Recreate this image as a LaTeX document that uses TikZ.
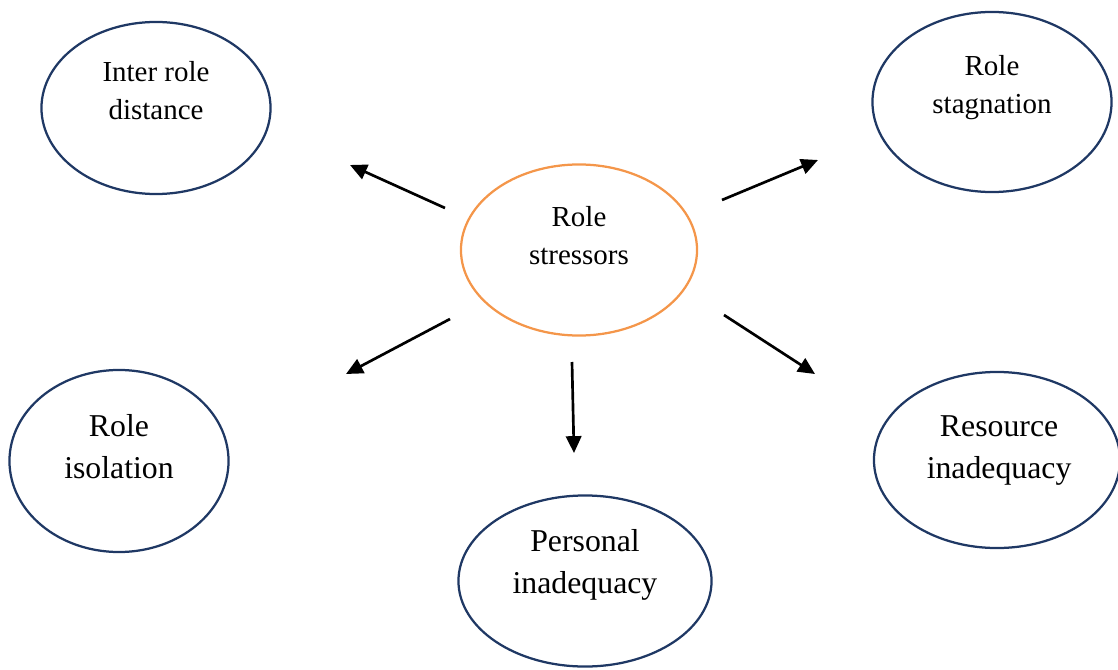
\documentclass[tikz,border=0pt]{standalone}
\usepackage{fontspec}
\setmainfont{Liberation Serif}
\usetikzlibrary{arrows.meta, shapes.geometric}
\definecolor{ringblue}{RGB}{31,56,100}
\definecolor{ringorange}{RGB}{244,150,74}
\tikzset{
  bubble/.style = {ellipse, draw = ringblue, line width = 1.6pt},
  small/.style = {align = center, font = \fontsize{20.6}{27}\selectfont},
  big/.style = {align = center, font = \fontsize{22.6}{30}\selectfont},
  arr/.style = {line width = 1.9pt, -{Triangle[length = 12pt, width = 11pt]}}
}
\begin{document}
\begin{tikzpicture}[x = 0.025cm, y = -0.025cm]
    \useasboundingbox (0,0) rectangle (1118,670);

    \node[bubble, draw = ringorange, minimum width = 5.9cm, minimum height = 4.275cm,
      label = {[small, yshift = 10pt]center:Role\\stressors}] (stress) at (579,250) {};
    \node[bubble, minimum width = 5.725cm, minimum height = 4.3cm,
      label = {[small, yshift = 12.5pt]center:Inter role\\distance}] (dist) at (156,108) {};
    \node[bubble, minimum width = 5.975cm, minimum height = 4.5cm,
      label = {[small, yshift = 10.5pt]center:Role\\stagnation}] (stag) at (992,102) {};
    \node[bubble, minimum width = 5.475cm, minimum height = 4.55cm,
      label = {[big, yshift = 10pt]center:Role\\isolation}] (iso) at (119,461) {};
    \node[bubble, minimum width = 6.325cm, minimum height = 4.275cm,
      label = {[big, yshift = 11.5pt]center:Personal\\inadequacy}] (pers) at (585,581) {};
    \node[bubble, minimum width = 6.15cm, minimum height = 4.4cm,
      label = {[big, yshift = 6.5pt, xshift = 1.5pt]center:Resource\\inadequacy}] (res) at (997,460) {};

    % arrow ends, the arrows stand free of the ellipses
    \coordinate (s1) at (445,208); \coordinate (e1) at (350,165);
    \coordinate (s2) at (722,200); \coordinate (e2) at (818,160);
    \coordinate (s3) at (450,319); \coordinate (e3) at (346,374);
    \coordinate (s4) at (724,315); \coordinate (e4) at (815,374);
    \coordinate (s5) at (572,362); \coordinate (e5) at (574,453);

    \draw[arr] (s1) -- (e1);
    \draw[arr] (s2) -- (e2);
    \draw[arr] (s3) -- (e3);
    \draw[arr] (s4) -- (e4);
    \draw[arr] (s5) -- (e5);
\end{tikzpicture}
\end{document}
